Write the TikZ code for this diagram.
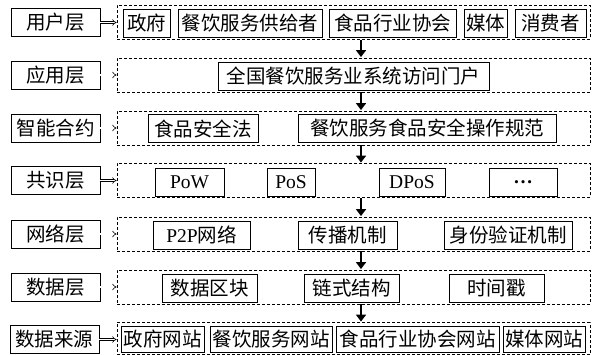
\documentclass[tikz,border=0pt]{standalone}
\usepackage{fontspec}
\setmainfont{Liberation Serif}
\newfontfamily\cjk{Noto Sans CJK SC}
\usetikzlibrary{arrows.meta}
\begin{document}
\begin{tikzpicture}[x=1pt,y=-1pt,
  every node/.style={font=\fontsize{19.5}{19.5}\selectfont\cjk, inner sep=0pt, anchor=center},
  lat/.style={font=\fontsize{19.5}{19.5}\selectfont\rmfamily},
  lbox/.style={draw, line width=0.8pt, minimum width=89pt, minimum height=28pt},
  dbox/.style={draw, line width=0.8pt, dash pattern=on 3pt off 2pt, minimum width=473pt, minimum height=34pt},
  ibox/.style={draw, line width=0.8pt, minimum height=28pt},
  harrow/.style={double, double distance=1.6pt, line width=0.6pt, -{Implies[length=3pt]}},
  varrow/.style={line width=2.6pt, -{Triangle[length=7pt,width=10pt]}, shorten >=0.5pt}
]
\useasboundingbox (0,0) rectangle (597,355);
% dashed layer boxes
\node[dbox] (d1) at (353.5,22.5) {};
\node[dbox] (d2) at (353.5,75) {};
\node[dbox] (d3) at (353.5,128) {};
\node[dbox] (d4) at (353.5,180.5) {};
\node[dbox] (d5) at (353.5,234) {};
\node[dbox] (d6) at (353.5,287) {};
\node[dbox, minimum height=32pt] (d7) at (353.5,338.5) {};
% left labels
\node[lbox] (l1) at (55.5,22.5) {用户层};
\node[lbox] (l2) at (55.5,75) {应用层};
\node[lbox] (l3) at (55.5,128) {智能合约};
\node[lbox] (l4) at (55.5,180.5) {共识层};
\node[lbox] (l5) at (55.5,234) {网络层};
\node[lbox] (l6) at (55.5,287) {数据层};
\node[lbox] (l7) at (54.5,339.5) {数据来源};
% row 1
\node[ibox, minimum width=47pt] (a1) at (146.5,23) {政府};
\node[ibox, minimum width=144pt] (a2) at (250,23) {餐饮服务供给者};
\node[ibox, minimum width=127pt] (a3) at (392.5,23) {食品行业协会};
\node[ibox, minimum width=43pt] (a4) at (485.5,23) {媒体};
\node[ibox, minimum width=71pt] (a5) at (550.5,23) {消费者};
% row 2
\node[ibox, minimum width=271pt] (b1) at (353.5,76) {全国餐饮服务业系统访问门户};
% row 3
\node[ibox, minimum width=110pt] (c1) at (203,128.5) {食品安全法};
\node[ibox, minimum width=258pt] (c2) at (427,128.5) {餐饮服务食品安全操作规范};
% row 4
\node[ibox, lat, minimum width=69pt] (e1) at (189.5,182) {PoW};
\node[ibox, lat, minimum width=48pt] (e2) at (291,182) {PoS};
\node[ibox, lat, minimum width=66pt] (e3) at (412,182) {DPoS};
\node[ibox, lat, minimum width=68pt] (e4) at (523,182) {\textbf{…}};
% row 5
\node[ibox, minimum width=97pt] (f1) at (201.5,235) {{\rmfamily P2P}网络};
\node[ibox, minimum width=99pt] (f2) at (347.5,235) {传播机制};
\node[ibox, minimum width=128pt] (f3) at (508,235) {身份验证机制};
% row 6
\node[ibox, minimum width=95pt] (g1) at (209.5,288) {数据区块};
\node[ibox, minimum width=95pt] (g2) at (351.5,288) {链式结构};
\node[ibox, minimum width=95pt] (g3) at (496.5,288) {时间戳};
% row 7
\node[ibox, minimum width=83pt, minimum height=26pt] (h1) at (162.5,339.5) {政府网站};
\node[ibox, minimum width=122pt, minimum height=26pt] (h2) at (271,339.5) {餐饮服务网站};
\node[ibox, minimum width=163pt, minimum height=26pt] (h3) at (417.5,339.5) {食品行业协会网站};
\node[ibox, minimum width=82pt, minimum height=26pt] (h4) at (544,339.5) {媒体网站};
% horizontal connectors
\foreach \i in {1,...,7} {
  \draw[harrow] (l\i.east) -- (l\i.east -| d\i.west);
}
% vertical arrows
\coordinate (ax) at (361,0);
\draw[varrow] (d1.south -| ax) -- (d2.north -| ax);
\draw[varrow] (d2.south -| ax) -- (d3.north -| ax);
\draw[varrow] (d3.south -| ax) -- (d4.north -| ax);
\draw[varrow] (d4.south -| ax) -- (d5.north -| ax);
\draw[varrow] (d5.south -| ax) -- (d6.north -| ax);
\draw[varrow] (d6.south -| ax) -- (d7.north -| ax);
\end{tikzpicture}
\end{document}
